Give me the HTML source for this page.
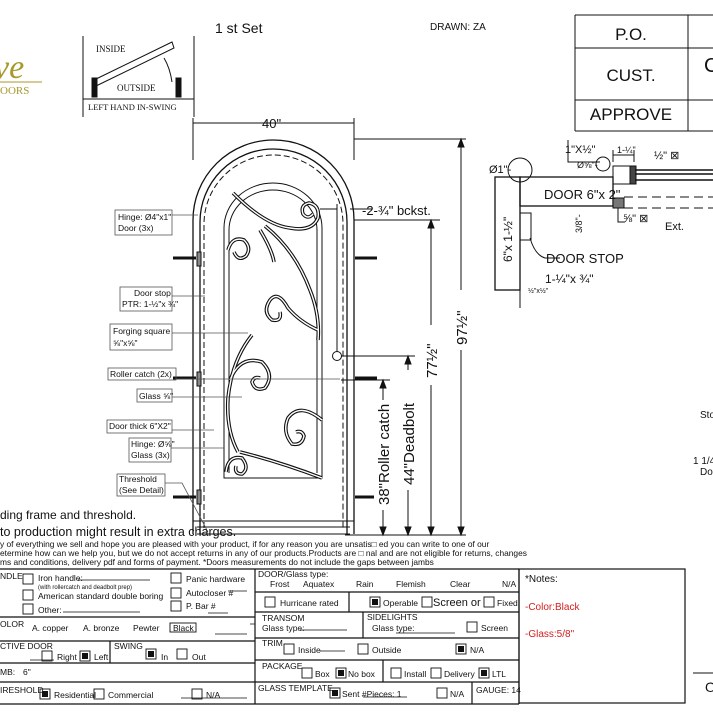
<!DOCTYPE html>
<html><head><meta charset="utf-8"><style>
html,body{margin:0;padding:0;background:#fff}
svg{display:block}
text{font-family:"Liberation Sans",sans-serif;fill:#111}
.s{font-family:"Liberation Serif",serif}
</style></head><body>
<svg width="713" height="713" viewBox="0 0 713 713" xmlns="http://www.w3.org/2000/svg">
<defs>
<g id="scr">
<path d="M233 193Q265 225 290 228Q312 232 318 218Q320 205 309 203Q300 205 303 214Q308 220 313 214"/>
<path d="M265 226Q295 250 310 290Q320 315 318 340"/>
<path d="M260 230Q272 250 274 262"/>
<path d="M228 250Q232 236 244 240Q252 248 246 256Q238 262 234 252"/>
<path d="M318 330Q300 322 288 308Q278 290 270 300Q262 312 272 320Q282 322 280 312"/>
<path d="M252 335Q232 360 228 398Q226 430 238 452"/>
<path d="M230 380Q240 355 262 362Q275 375 265 388Q255 392 252 382Q254 376 260 378"/>
<path d="M322 420Q300 402 288 418Q282 432 292 444Q302 446 304 436Q302 430 296 432"/>
<path d="M240 452Q280 462 322 478"/>
<path d="M226 472Q228 455 242 458Q250 468 242 474Q234 474 236 466"/>
</g>
</defs>
<rect width="713" height="713" fill="#fff"/>
<g fill="none" stroke="#111" stroke-width="1">
<!-- logo -->
<text x="-6" y="78" class="s" style="font-size:34px;font-style:italic;fill:#a89a2a;stroke:none">ve</text>
<line x1="0" y1="82" x2="42" y2="82" stroke="#a89a2a"/>
<text x="0" y="94" class="s" style="font-size:11px;fill:#a89a2a;stroke:none">OORS</text>
<!-- swing box -->
<path d="M83 36V117M194 36V117M83 99H194"/>
<path d="M94 80L172 42L174 48L96 86Z"/>
<path d="M92 78h5v19h-5zM176 78h5v19h-5z" fill="#111"/>
<path d="M172 82Q170 68 164 58"/>
<text x="96" y="52" class="s" style="font-size:9px;stroke:none">INSIDE</text>
<text x="117" y="91" class="s" style="font-size:9px;stroke:none">OUTSIDE</text>
<text x="88" y="110" class="s" style="font-size:8.5px;stroke:none">LEFT HAND IN-SWING</text>
<text x="215" y="33" style="font-size:14px;stroke:none">1 st Set</text>
<text x="430" y="30" style="font-size:10px;stroke:none">DRAWN: ZA</text>
<!-- top right table -->
<path d="M575 15H713M575 48H713M575 100H713M575 131H713M575 15V131M688 15V131"/>
<text x="631" y="40" text-anchor="middle" style="font-size:17px;stroke:none">P.O.</text>
<text x="631" y="81" text-anchor="middle" style="font-size:17px;stroke:none">CUST.</text>
<text x="631" y="120" text-anchor="middle" style="font-size:17px;stroke:none">APPROVE</text>
<text x="704" y="72" style="font-size:20px;stroke:none">C</text>
<!-- 40 dim -->
<path d="M193 118V160M354 118V160M193 123H354M354 139H466"/>
<text x="262" y="128" style="font-size:13px;stroke:none">40"</text>
<!-- door frame -->
<path d="M193 534V220A80.5 80 0 0 1 354 220V534" stroke-width="1.3"/>
<path d="M200 534V222A73.5 73 0 0 1 347 222V534" stroke-width="1.3"/>
<path d="M204 528V224A69.5 69 0 0 1 343 224V528" stroke-dasharray="6 3"/>
<path d="M224 478V228A49 45 0 0 1 322 228V478Z"/>
<path d="M229 473V230A44 40 0 0 1 317 230V473"/>
<path d="M197 527H350M197 534H350M193 521H354"/>
<!-- scrollwork -->
<use href="#scr" stroke="#111" stroke-width="3.6"/>
<use href="#scr" stroke="#fff" stroke-width="1.4"/>
<!-- hinges & pins -->
<g stroke-width="3"><path d="M173 258H196M173 378H196M173 497H196M355 258H377M355 378H377M355 497H377"/></g>
<path d="M197 252h4v14h-4zM197 372h4v14h-4zM197 490h4v14h-4z" fill="#888"/>
<circle cx="337" cy="356" r="4.5"/>
<path d="M337 204V352M320 209H337M350 209H372"/>
<!-- right dims -->
<text x="362" y="215" style="font-size:13px;stroke:none">-2-¾"  bckst.</text>
<path d="M354 220H440M341 356H415M341 380H390M345 535H466"/>
<path d="M383 380V535M408 356V535M431 220V535M461 139V535"/>
<path d="M383 380l-3 8h6zM383 535l-3-8h6zM408 356l-3 8h6zM408 535l-3-8h6zM431 220l-3 8h6zM431 535l-3-8h6zM461 139l-3 8h6zM461 535l-3-8h6z" fill="#111"/>
<rect x="374" y="400" width="18" height="110" fill="#fff" stroke="none"/>
<rect x="399" y="370" width="18" height="120" fill="#fff" stroke="none"/>
<rect x="422" y="325" width="18" height="60" fill="#fff" stroke="none"/>
<rect x="452" y="290" width="18" height="60" fill="#fff" stroke="none"/>
<text transform="translate(389 505) rotate(-90)" style="font-size:15px;stroke:none">38"Roller catch</text>
<text transform="translate(414 485) rotate(-90)" style="font-size:15px;stroke:none">44"Deadbolt</text>
<text transform="translate(437 378) rotate(-90)" style="font-size:15px;stroke:none">77½"</text>
<text transform="translate(467 345) rotate(-90)" style="font-size:15px;stroke:none">97½"</text>
<!-- labels -->
<g stroke="#555" stroke-width="0.8">
<rect x="115" y="210" width="57" height="25"/><path d="M172 215H198"/>
<rect x="120" y="287" width="52" height="24"/><path d="M172 296H205"/>
<rect x="110" y="324" width="62" height="26"/><path d="M172 333H248"/>
<rect x="108" y="368" width="68" height="12"/><path d="M176 379H340"/>
<rect x="137" y="389" width="35" height="13"/><path d="M172 397H242"/>
<rect x="107" y="420" width="65" height="13"/><path d="M172 430H214"/>
<rect x="129" y="438" width="42" height="24"/><path d="M171 448H224"/>
<rect x="117" y="474" width="48" height="22"/><path d="M165 483H182L208 532"/>
</g>
<g style="font-size:8.5px" stroke="none">
<text x="118" y="220">Hinge: Ø4"x1"</text><text x="118" y="231">Door (3x)</text>
<text x="134" y="296">Door stop</text><text x="122" y="307">PTR: 1-½"x ¾"</text>
<text x="113" y="334">Forging square</text><text x="113" y="346">⅝"x⅝"</text>
<text x="110" y="377">Roller catch  (2x)</text>
<text x="139" y="399">Glass ⅝"</text>
<text x="109" y="429">Door thick 6"X2"</text>
<text x="131" y="447">Hinge: Ø⅝"</text><text x="131" y="458">Glass (3x)</text>
<text x="119" y="482">Threshold</text><text x="119" y="493">(See Detail)</text>
</g>
<!-- right detail -->
<rect x="495" y="177" width="25" height="113" stroke-width="1.3"/>
<rect x="520" y="177" width="93" height="29" stroke-width="1.3"/>
<rect x="520" y="213" width="11" height="27"/>
<circle cx="520" cy="170" r="12"/><circle cx="603" cy="164" r="7"/>
<rect x="613" y="166" width="22" height="18"/>
<path d="M613 198h11v10h-11z" fill="#777"/>
<path d="M630 166h6v18h-6z" fill="#444"/>
<path d="M635 170H713M635 174H713M635 180H713" stroke-width="1.4"/>
<path d="M624 197H713M624 208H713" stroke-dasharray="9 5"/>
<path d="M520 218V308M530 238Q535 255 545 258H560M568 140V162H600M613 162V150M634 162V150M613 155H634M618 208V222H625"/>
<g stroke="none">
<text x="544" y="199" style="font-size:13px">DOOR 6"x 2"</text>
<text x="546" y="263" style="font-size:13px">DOOR STOP</text>
<text x="545" y="283" style="font-size:12px">1-¼"x ¾"</text>
<text x="489" y="173" style="font-size:11px">Ø1"-</text>
<text x="565" y="153" style="font-size:11px">1"X½"</text>
<text x="577" y="168" style="font-size:9px">Ø⅝"-</text>
<text x="617" y="153" style="font-size:9px">1-¼"</text>
<text x="654" y="159" style="font-size:11px">½" ⊠</text>
<text x="623" y="222" style="font-size:11px">⅝" ⊠</text>
<text x="665" y="230" style="font-size:11px">Ext.</text>
<text x="528" y="293" style="font-size:7px">½"x½"</text>
<text transform="translate(512 262) rotate(-90)" style="font-size:12px">6"x 1-½"</text>
<text transform="translate(582 233) rotate(-90)" style="font-size:9px">3/8"-</text>
<text x="700" y="418" style="font-size:10px">Sto</text>
<text x="693" y="464" style="font-size:10px">1 1/4</text>
<text x="700" y="475" style="font-size:10px">Do</text>
<text x="705" y="692" style="font-size:14px">O</text>
</g>
<path d="M693 673H713"/>
<!-- notes text -->
<g stroke="none">
<text x="0" y="519" style="font-size:12px">ding frame and threshold.</text>
<text x="0" y="536" style="font-size:12.5px">to production might result in extra charges.</text>
<text x="0" y="547" style="font-size:8.4px">y of everything we sell and hope you are pleased with your product, if for any reason you are unsatis□ ed you can write to one of our</text>
<text x="0" y="556" style="font-size:8.4px">etermine how can we help you, but we do not accept returns in any of our products.Products are □ nal and are not eligible for returns, changes</text>
<text x="0" y="565" style="font-size:8.4px">ms and conditions, delivery pdf and forms of payment. *Doors measurements do not include the gaps between jambs</text>
</g>
<!-- form -->
<g stroke-width="1.2">
<path d="M0 569H519M0 617H255M0 641H255M0 663H255M0 682H255M0 704H519"/>
<path d="M255 569V704M110 641V663M519 569V704M255 592H519M255 612H519M255 638H519M255 660H519M255 682H519M349 592V612M363 612V638M383 660V682M472 682V704"/>
<rect x="519" y="569" width="166" height="134"/>
</g>
<g stroke-width="0.9">
<rect x="23" y="574" width="10" height="10"/><rect x="23" y="590" width="10" height="10"/><rect x="23" y="604" width="10" height="10"/>
<rect x="171" y="573" width="10" height="10"/><rect x="171" y="588" width="10" height="10"/><rect x="171" y="601" width="10" height="10"/>
<rect x="170" y="623" width="26" height="9"/>
<rect x="42" y="651" width="10" height="10"/><rect x="80" y="651" width="10" height="10"/>
<rect x="146" y="649" width="10" height="10"/><rect x="177" y="649" width="10" height="10"/>
<rect x="40" y="689" width="10" height="10"/><rect x="94" y="689" width="10" height="10"/><rect x="192" y="689" width="10" height="10"/>
<rect x="265" y="597" width="10" height="10"/><rect x="370" y="597" width="10" height="10"/><rect x="422" y="597" width="10" height="10"/><rect x="484" y="597" width="10" height="10"/>
<rect x="467" y="622" width="10" height="10"/>
<rect x="284" y="644" width="10" height="10"/><rect x="358" y="644" width="10" height="10"/><rect x="456" y="644" width="10" height="10"/>
<rect x="302" y="668" width="10" height="10"/><rect x="336" y="668" width="10" height="10"/><rect x="391" y="668" width="10" height="10"/><rect x="431" y="668" width="10" height="10"/><rect x="479" y="668" width="10" height="10"/>
<rect x="330" y="688" width="10" height="10"/><rect x="437" y="688" width="10" height="10"/>
</g>
<g fill="#111" stroke="none">
<rect x="82" y="653" width="6" height="6"/><rect x="148" y="651" width="6" height="6"/><rect x="42" y="691" width="6" height="6"/>
<rect x="372" y="599" width="6" height="6"/><rect x="458" y="646" width="6" height="6"/><rect x="338" y="670" width="6" height="6"/><rect x="481" y="670" width="6" height="6"/><rect x="332" y="690" width="6" height="6"/>
</g>
<path d="M78 580H150M63 612H140M228 591H247M208 613H228M215 634H247M30 660H54M300 630H347M396 633H455M320 651H345M181 698H243M225 698H247M363 697H407M250 624H255" stroke-width="0.8"/>
<g stroke="none" style="font-size:8.5px">
<text x="0" y="579">NDLE</text><text x="38" y="581">Iron handle:</text>
<text x="38" y="589" style="font-size:6px">(with rollercatch and deadbolt prep)</text>
<text x="38" y="599">American standard double boring</text>
<text x="38" y="613">Other:</text>
<text x="186" y="582">Panic hardware</text><text x="186" y="596">Autocloser #</text><text x="186" y="609">P. Bar #</text>
<text x="0" y="627">OLOR</text><text x="32" y="631">A. copper</text><text x="83" y="631">A. bronze</text><text x="133" y="631">Pewter</text><text x="173" y="631">Black</text>
<text x="0" y="649">CTIVE DOOR</text><text x="57" y="660">Right</text><text x="94" y="660">Left</text>
<text x="114" y="649">SWING</text><text x="161" y="660">In</text><text x="192" y="660">Out</text>
<text x="0" y="675">MB:</text><text x="23" y="675">6"</text>
<text x="0" y="693">IRESHOLD</text><text x="54" y="698">Residential</text><text x="108" y="698">Commercial</text><text x="206" y="698">N/A</text>
<text x="258" y="577">DOOR/Glass type:</text>
<text x="270" y="587">Frost</text><text x="303" y="587">Aquatex</text><text x="356" y="587">Rain</text><text x="396" y="587">Flemish</text><text x="450" y="587">Clear</text><text x="502" y="587">N/A</text>
<text x="280" y="606">Hurricane rated</text><text x="383" y="606">Operable</text><text x="433" y="606" style="font-size:11px">Screen or</text><text x="497" y="606">Fixed</text>
<text x="262" y="621">TRANSOM</text><text x="262" y="631">Glass type:</text>
<text x="367" y="620">SIDELIGHTS</text><text x="372" y="631">Glass type:</text><text x="481" y="631">Screen</text>
<text x="262" y="646">TRIM</text><text x="298" y="653">Inside</text><text x="372" y="653">Outside</text><text x="470" y="653">N/A</text>
<text x="262" y="669">PACKAGE</text><text x="315" y="677">Box</text><text x="348" y="677">No box</text><text x="404" y="677">Install</text><text x="444" y="677">Delivery</text><text x="492" y="677">LTL</text>
<text x="258" y="691">GLASS TEMPLATE</text><text x="342" y="697">Sent #Pieces:  1</text><text x="450" y="697">N/A</text><text x="476" y="693">GAUGE: 14</text>
<text x="525" y="582" style="font-size:10px">*Notes:</text>
<text x="525" y="610" style="font-size:10px;fill:#d32020">-Color:Black</text>
<text x="525" y="637" style="font-size:10px;fill:#d32020">-Glass:5/8"</text>
</g>
</g>
</svg>
</body></html>
